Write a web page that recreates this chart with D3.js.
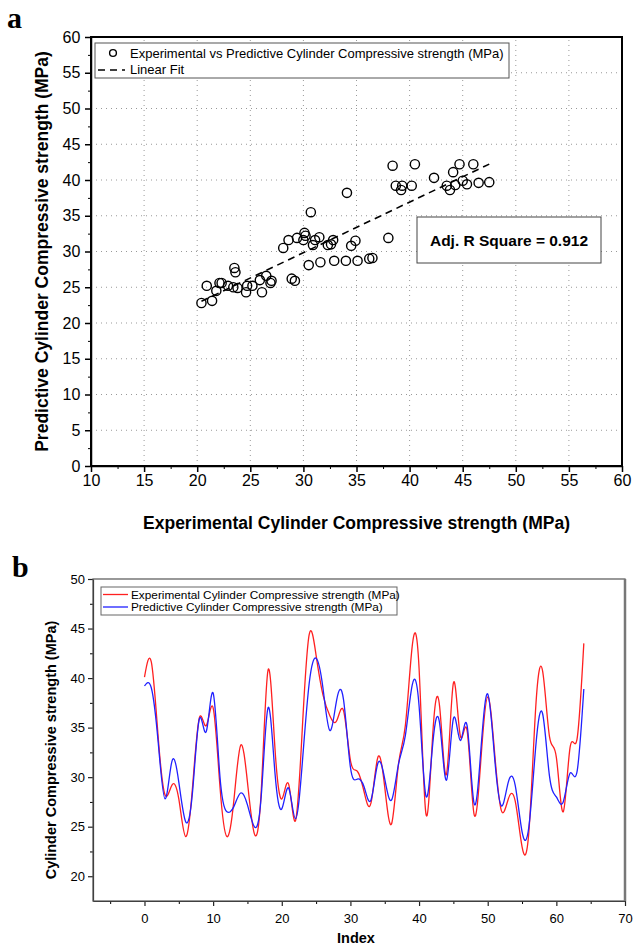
<!DOCTYPE html>
<html>
<head>
<meta charset="utf-8">
<script src="https://cdn.jsdelivr.net/npm/d3@7"></script>
<style>
  body { margin: 0; background: #fff; }
  svg { font-family: "Liberation Sans", Arial, sans-serif; }
</style>
</head>
<body>
<svg id="chart" width="644" height="952"></svg>
<script>
// panel a: experimental (x) vs predictive (y)
const expA = [20.4, 20.9, 21.4, 21.8, 22.1, 22.3, 22.9, 23.4, 23.5, 23.6, 23.8, 24.6, 24.7, 25.2, 25.9,
  26.1, 26.5, 26.9, 27.0, 28.1, 28.6, 28.9, 29.2, 29.4, 30.0, 30.1, 30.2, 30.5, 30.7, 30.9, 31.1, 31.5,
  31.6, 32.3, 32.6, 32.8, 32.9, 34.0, 34.1, 34.5, 34.9, 35.1, 36.2, 36.5, 38.0, 38.4, 38.7, 39.2, 39.3,
  40.2, 40.5, 42.3, 43.5, 43.8, 44.1, 44.3, 44.7, 45.0, 45.4, 46.0, 46.5, 47.5];
const predA = [22.8, 25.2, 23.1, 24.5, 25.6, 25.6, 25.2, 25.0, 27.7, 27.1, 24.9, 24.3, 25.2, 25.2, 26.0,
  24.3, 26.6, 25.6, 25.9, 30.5, 31.6, 26.2, 25.9, 31.9, 31.6, 32.6, 32.2, 28.1, 35.5, 30.9, 31.6, 32.0,
  28.5, 30.9, 31.0, 31.6, 28.7, 28.7, 38.2, 30.8, 31.5, 28.7, 29.0, 29.1, 31.9, 42.0, 39.2, 38.6, 39.2,
  39.2, 42.2, 40.3, 39.2, 38.6, 41.1, 39.3, 42.2, 39.9, 39.4, 42.2, 39.6, 39.7];
const ticksA = [10, 15, 20, 25, 30, 35, 40, 45, 50, 55, 60];
const ticksAy = [0, 5, 10, 15, 20, 25, 30, 35, 40, 45, 50, 55, 60];
const adjR2 = 0.912;

// panel b: by sample index
const expB = [40.1, 41.6, 34.0, 28.2, 29.2, 27.8, 24.0, 29.0, 36.0, 35.2, 37.0, 29.0, 24.0, 27.5, 33.2,
  29.5, 24.3, 28.5, 40.8, 33.0, 27.8, 29.3, 25.6, 35.0, 44.4, 42.3, 38.3, 36.2, 35.7, 36.7, 31.7, 30.6,
  28.5, 27.4, 32.0, 29.0, 25.3, 31.3, 35.2, 43.2, 41.0, 26.3, 34.4, 37.1, 30.3, 39.5, 34.2, 34.7, 26.3,
  31.7, 38.1, 32.5, 26.6, 27.8, 27.6, 23.0, 24.5, 37.1, 40.7, 34.1, 32.0, 26.5, 33.0, 33.8, 43.5];
const predB = [39.2, 39.0, 33.5, 27.8, 31.6, 29.5, 25.5, 28.5, 35.9, 34.6, 38.5, 30.0, 26.5, 27.0, 28.4,
  27.2, 25.0, 28.0, 37.0, 30.5, 26.8, 28.9, 25.8, 31.5, 39.5, 42.0, 39.0, 34.7, 37.8, 37.8, 31.0, 29.8,
  29.0, 27.7, 31.4, 29.8, 27.7, 31.3, 34.2, 39.3, 37.2, 28.1, 33.4, 35.4, 29.7, 35.9, 33.7, 35.2, 27.4,
  32.7, 38.4, 32.0, 27.1, 29.5, 29.2, 24.5, 25.0, 33.1, 36.4, 30.1, 28.0, 27.5, 30.4, 30.5, 38.9];
const ticksBx = [0, 10, 20, 30, 40, 50, 60, 70];
const ticksBy = [20, 25, 30, 35, 40, 45, 50];

const svg = d3.select('#chart');

// ---------- panel a ----------
const xa = d3.scaleLinear().domain([10, 60]).range([91, 622]);
const ya = d3.scaleLinear().domain([0, 60]).range([466, 37]);
const ga = svg.append('g');

// dotted grid
ga.append('g').selectAll('line').data(ticksA.slice(1, -1)).enter().append('line')
  .attr('x1', d => xa(d)).attr('x2', d => xa(d)).attr('y1', ya(0)).attr('y2', ya(60))
  .attr('stroke', '#999').attr('stroke-width', 1).attr('stroke-dasharray', '1,4');
ga.append('g').selectAll('line').data(ticksAy.slice(1, -1)).enter().append('line')
  .attr('y1', d => ya(d)).attr('y2', d => ya(d)).attr('x1', xa(10)).attr('x2', xa(60))
  .attr('stroke', '#999').attr('stroke-width', 1).attr('stroke-dasharray', '1,4');

const axA = ga.append('g').attr('transform', `translate(0,${ya(0)})`)
  .call(d3.axisBottom(xa).tickValues(ticksA).tickSize(6).tickSizeOuter(0));
ga.append('g').attr('transform', `translate(0,${ya(0)})`)
  .call(d3.axisBottom(xa).tickValues(d3.range(12.5, 60, 5)).tickSize(3).tickFormat(''))
  .select('.domain').remove();
const ayA = ga.append('g').attr('transform', `translate(${xa(10)},0)`)
  .call(d3.axisLeft(ya).tickValues(ticksAy).tickSize(6).tickSizeOuter(0));
ga.append('g').attr('transform', `translate(${xa(10)},0)`)
  .call(d3.axisLeft(ya).tickValues(d3.range(2.5, 60, 5)).tickSize(3).tickFormat(''))
  .select('.domain').remove();
[axA, ayA].forEach(a => {
  a.selectAll('text').attr('font-size', 16).attr('fill', '#000');
  a.selectAll('line, path').attr('stroke', '#000').attr('stroke-width', 1.5);
});
ayA.selectAll('text').attr('dx', '-0.1em');
ga.append('rect').attr('x', xa(10)).attr('y', ya(60)).attr('width', xa(60) - xa(10)).attr('height', ya(0) - ya(60))
  .attr('fill', 'none').attr('stroke', '#000').attr('stroke-width', 2);

// linear fit
const mx = d3.mean(expA), my = d3.mean(predA);
const slope = d3.sum(expA, (d, i) => (d - mx) * (predA[i] - my)) / d3.sum(expA, d => (d - mx) ** 2);
const icpt = my - slope * mx;
const fitX = d3.extent(expA);
ga.append('line')
  .attr('x1', xa(fitX[0])).attr('y1', ya(icpt + slope * fitX[0]))
  .attr('x2', xa(fitX[1])).attr('y2', ya(icpt + slope * fitX[1]))
  .attr('stroke', '#000').attr('stroke-width', 1.6).attr('stroke-dasharray', '7,5');

ga.append('g').selectAll('circle').data(expA).enter().append('circle')
  .attr('cx', d => xa(d)).attr('cy', (d, i) => ya(predA[i])).attr('r', 4.6)
  .attr('fill', 'none').attr('stroke', '#000').attr('stroke-width', 1.4);

// legend a
ga.append('rect').attr('x', 95).attr('y', 43).attr('width', 414).attr('height', 35)
  .attr('fill', '#fff').attr('stroke', '#555').attr('stroke-width', 1);
ga.append('circle').attr('cx', 113).attr('cy', 53).attr('r', 3.4)
  .attr('fill', 'none').attr('stroke', '#000').attr('stroke-width', 1.4);
ga.append('line').attr('x1', 98).attr('x2', 125).attr('y1', 70).attr('y2', 70)
  .attr('stroke', '#000').attr('stroke-width', 1.6).attr('stroke-dasharray', '7,5');
ga.append('text').attr('x', 130).attr('y', 57.5).attr('font-size', 13)
  .text('Experimental vs Predictive Cylinder Compressive strength (MPa)');
ga.append('text').attr('x', 130).attr('y', 74).attr('font-size', 13).text('Linear Fit');

// R square box
ga.append('rect').attr('x', 417).attr('y', 217).attr('width', 184).attr('height', 46)
  .attr('fill', '#fff').attr('stroke', '#444').attr('stroke-width', 1);
ga.append('text').attr('x', 509).attr('y', 245.5).attr('text-anchor', 'middle')
  .attr('font-size', 15.5).attr('font-weight', 'bold').text(`Adj. R Square = ${adjR2}`);

ga.append('text').attr('transform', `translate(48,${(ya(0) + ya(60)) / 2}) rotate(-90)`)
  .attr('text-anchor', 'middle').attr('font-size', 17.5).attr('font-weight', 'bold')
  .text('Predictive Cylinder Compressive strength (MPa)');
ga.append('text').attr('x', (xa(10) + xa(60)) / 2).attr('y', 529).attr('text-anchor', 'middle')
  .attr('font-size', 17.5).attr('font-weight', 'bold')
  .text('Experimental Cylinder Compressive strength (MPa)');
ga.append('text').attr('x', 7).attr('y', 28).attr('font-family', '"Liberation Serif", serif')
  .attr('font-size', 30).attr('font-weight', 'bold').text('a');

// ---------- panel b ----------
const xb = d3.scaleLinear().domain([-7.5, 70]).range([93, 625]);
const yb = d3.scaleLinear().domain([17.5, 50]).range([901, 579]);
const gb = svg.append('g');

const axB = gb.append('g').attr('transform', `translate(0,${yb(17.5)})`)
  .call(d3.axisBottom(xb).tickValues(ticksBx).tickSize(5).tickSizeOuter(0));
gb.append('g').attr('transform', `translate(0,${yb(17.5)})`)
  .call(d3.axisBottom(xb).tickValues(d3.range(-5, 70, 10)).tickSize(3).tickFormat(''))
  .select('.domain').remove();
const ayB = gb.append('g').attr('transform', `translate(${xb(-7.5)},0)`)
  .call(d3.axisLeft(yb).tickValues(ticksBy).tickSize(5).tickSizeOuter(0));
gb.append('g').attr('transform', `translate(${xb(-7.5)},0)`)
  .call(d3.axisLeft(yb).tickValues(d3.range(22.5, 50, 5)).tickSize(3).tickFormat(''))
  .select('.domain').remove();
[axB, ayB].forEach(a => {
  a.selectAll('text').attr('font-size', 13).attr('fill', '#000');
  a.selectAll('line, path').attr('stroke', '#222').attr('stroke-width', 1.2);
});
axB.selectAll('text').attr('dy', '1.05em');
gb.append('rect').attr('x', xb(-7.5)).attr('y', yb(50)).attr('width', xb(70) - xb(-7.5)).attr('height', yb(17.5) - yb(50))
  .attr('fill', 'none').attr('stroke', '#555').attr('stroke-width', 1.2);
gb.append('line').attr('x1', xb(70)).attr('x2', xb(70)).attr('y1', yb(50)).attr('y2', yb(17.5))
  .attr('stroke', '#777').attr('stroke-width', 2.5);

const line = (vals) => d3.line().x((d, i) => xb(i)).y(d => yb(d)).curve(d3.curveNatural)(vals);
gb.append('path').attr('d', line(expB)).attr('fill', 'none').attr('stroke', '#ff2020').attr('stroke-width', 1.3);
gb.append('path').attr('d', line(predB)).attr('fill', 'none').attr('stroke', '#2020ff').attr('stroke-width', 1.3);

// legend b
gb.append('rect').attr('x', 101).attr('y', 587).attr('width', 296).attr('height', 28)
  .attr('fill', '#fff').attr('stroke', '#666').attr('stroke-width', 1);
gb.append('line').attr('x1', 103).attr('x2', 128).attr('y1', 594.5).attr('y2', 594.5).attr('stroke', '#ff2020').attr('stroke-width', 1.3);
gb.append('line').attr('x1', 103).attr('x2', 128).attr('y1', 607).attr('y2', 607).attr('stroke', '#2020ff').attr('stroke-width', 1.3);
gb.append('text').attr('x', 131).attr('y', 598.5).attr('font-size', 11.8).text('Experimental Cylinder Compressive strength (MPa)');
gb.append('text').attr('x', 131).attr('y', 611).attr('font-size', 11.8).text('Predictive Cylinder Compressive strength (MPa)');

gb.append('text').attr('transform', `translate(56,${(yb(17.5) + yb(50)) / 2 + 10}) rotate(-90)`)
  .attr('text-anchor', 'middle').attr('font-size', 14.5).attr('font-weight', 'bold')
  .text('Cylinder Compressive strength (MPa)');
gb.append('text').attr('x', 356).attr('y', 943).attr('text-anchor', 'middle')
  .attr('font-size', 14.5).attr('font-weight', 'bold').text('Index');
gb.append('text').attr('x', 12).attr('y', 577).attr('font-family', '"Liberation Serif", serif')
  .attr('font-size', 30).attr('font-weight', 'bold').text('b');
</script>
</body>
</html>
